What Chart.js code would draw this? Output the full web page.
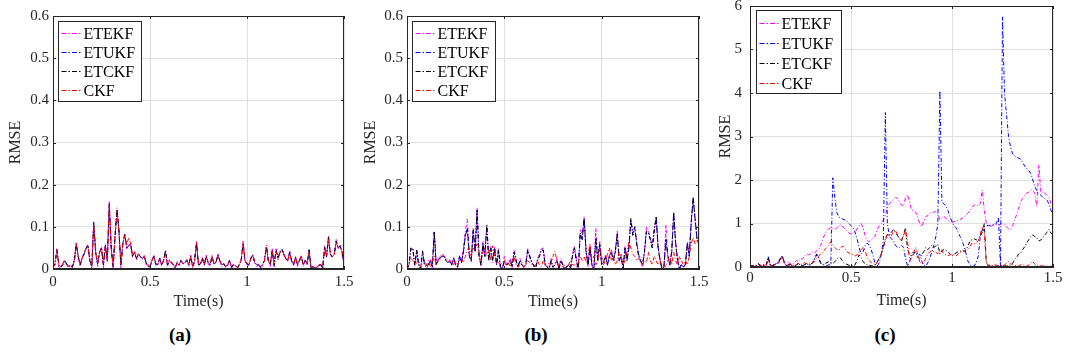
<!DOCTYPE html>
<html>
<head>
<meta charset="utf-8">
<script src="https://cdn.jsdelivr.net/npm/chart.js@4.4.1/dist/chart.umd.min.js"></script>
<style>
  body { margin: 0; background: #fff; width: 1065px; height: 358px; position: relative; overflow: hidden; font-family: 'Liberation Serif', serif; }
  canvas { position: absolute; top: 0; }
  .cap { position: absolute; top: 324px; font-weight: bold; font-size: 19px; color: #000; transform: translateX(-50%); }
</style>
</head>
<body>
<canvas id="chartA" width="355" height="320" style="left:0px"></canvas>
<canvas id="chartB" width="355" height="320" style="left:355px"></canvas>
<canvas id="chartC" width="355" height="320" style="left:710px"></canvas>
<div class="cap" style="left:180px">(a)</div>
<div class="cap" style="left:536px">(b)</div>
<div class="cap" style="left:885px">(c)</div>
<script>
// sample step of every series (s)
const DT = 0.01;
const seriesNames = ['ETEKF', 'ETUKF', 'ETCKF', 'CKF'];
const seriesColors = ['#ff00ff', '#0000ff', '#000000', '#ff0000'];
const xTicks = [0, 0.5, 1, 1.5];
const yTicksAB = [0, 0.1, 0.2, 0.3, 0.4, 0.5, 0.6];
const yTicksC = [0, 1, 2, 3, 4, 5, 6];

// ---- (a) ----
const aEtekf = [0.002,0.015,0.048,0.005,0.002,0.012,0.022,0.01,0.003,0.01,
  0.002,0.022,0.062,0.028,0.006,0.028,0.037,0.05,0.058,0.015,
  0.002,0.112,0.038,0.006,0.042,0.052,0.0,0.06,0.018,0.16,
  0.048,0.0,0.082,0.145,0.092,0.0,0.062,0.085,0.048,0.058,
  0.058,0.028,0.042,0.022,0.038,0.028,0.022,0.032,0.012,0.005,
  0.003,0.022,0.032,0.008,0.008,0.028,0.006,0.022,0.04,0.005,
  0.022,0.018,0.008,0.002,0.018,0.008,0.022,0.01,0.018,0.022,
  0.006,0.033,0.002,0.022,0.066,0.006,0.01,0.028,0.006,0.033,
  0.012,0.006,0.033,0.01,0.018,0.036,0.018,0.005,0.014,0.002,
  0.008,0.022,0.0,0.012,0.006,0.0,0.012,0.022,0.066,0.016,
  0.01,0.008,0.028,0.035,0.012,0.006,0.012,0.002,0.008,0.022,
  0.057,0.018,0.006,0.048,0.005,0.048,0.022,0.042,0.044,0.032,
  0.022,0.018,0.042,0.018,0.006,0.03,0.006,0.022,0.032,0.006,
  0.022,0.01,0.042,0.0,0.004,0.002,0.003,0.01,0.012,0.0,
  0.055,0.028,0.079,0.032,0.028,0.038,0.07,0.048,0.058,0.038,
  0.008];
const aEtukf = [0.005,0.012,0.045,0.01,0.004,0.01,0.02,0.012,0.006,0.008,
  0.005,0.02,0.058,0.03,0.01,0.026,0.035,0.047,0.055,0.02,
  0.006,0.108,0.04,0.012,0.04,0.048,0.01,0.056,0.02,0.153,
  0.05,0.006,0.08,0.14,0.09,0.01,0.06,0.082,0.05,0.055,
  0.06,0.03,0.04,0.025,0.035,0.03,0.025,0.03,0.015,0.006,
  0.004,0.02,0.03,0.012,0.01,0.025,0.01,0.02,0.045,0.01,
  0.02,0.015,0.01,0.002,0.015,0.01,0.02,0.012,0.015,0.02,
  0.01,0.03,0.005,0.02,0.06,0.01,0.012,0.026,0.01,0.03,
  0.015,0.01,0.03,0.012,0.015,0.033,0.02,0.01,0.012,0.005,
  0.01,0.02,0.003,0.01,0.008,0.002,0.01,0.02,0.06,0.02,
  0.012,0.01,0.025,0.033,0.015,0.01,0.01,0.003,0.01,0.02,
  0.052,0.02,0.01,0.045,0.008,0.045,0.025,0.04,0.047,0.038,
  0.025,0.02,0.04,0.02,0.01,0.028,0.01,0.02,0.03,0.01,
  0.02,0.012,0.046,0.003,0.005,0.003,0.004,0.008,0.01,0.002,
  0.05,0.03,0.074,0.035,0.03,0.035,0.065,0.05,0.054,0.04,
  0.01];
const aEtckf = [0.005,0.01,0.046,0.01,0.005,0.01,0.02,0.012,0.006,0.008,
  0.005,0.02,0.06,0.03,0.01,0.026,0.035,0.048,0.056,0.02,
  0.006,0.11,0.04,0.012,0.04,0.05,0.01,0.057,0.02,0.155,
  0.05,0.005,0.08,0.142,0.09,0.01,0.06,0.083,0.05,0.055,
  0.06,0.03,0.04,0.025,0.035,0.03,0.025,0.03,0.015,0.008,
  0.005,0.02,0.03,0.012,0.01,0.025,0.01,0.02,0.043,0.01,
  0.02,0.015,0.01,0.003,0.015,0.01,0.02,0.012,0.015,0.02,
  0.01,0.03,0.005,0.02,0.062,0.01,0.012,0.026,0.01,0.03,
  0.015,0.01,0.03,0.012,0.015,0.033,0.02,0.01,0.012,0.005,
  0.01,0.02,0.005,0.01,0.008,0.002,0.01,0.02,0.062,0.02,
  0.012,0.01,0.025,0.033,0.015,0.01,0.01,0.005,0.01,0.02,
  0.053,0.02,0.01,0.045,0.01,0.045,0.025,0.04,0.046,0.035,
  0.025,0.02,0.04,0.02,0.01,0.028,0.01,0.02,0.03,0.01,
  0.02,0.012,0.045,0.003,0.005,0.003,0.004,0.008,0.01,0.002,
  0.052,0.03,0.075,0.035,0.03,0.035,0.066,0.05,0.055,0.04,
  0.01];
const aCkf = [0.004,0.01,0.044,0.012,0.005,0.012,0.018,0.012,0.007,0.009,
  0.006,0.02,0.059,0.03,0.012,0.025,0.036,0.05,0.054,0.02,
  0.008,0.107,0.042,0.014,0.038,0.05,0.012,0.055,0.022,0.152,
  0.05,0.006,0.078,0.138,0.088,0.012,0.058,0.08,0.055,0.075,
  0.062,0.032,0.04,0.027,0.036,0.03,0.026,0.03,0.016,0.01,
  0.006,0.02,0.03,0.014,0.011,0.024,0.012,0.02,0.038,0.012,
  0.02,0.014,0.012,0.004,0.014,0.012,0.019,0.013,0.014,0.02,
  0.011,0.029,0.006,0.02,0.063,0.012,0.013,0.025,0.012,0.029,
  0.016,0.011,0.029,0.013,0.016,0.032,0.02,0.012,0.012,0.006,
  0.011,0.019,0.006,0.01,0.009,0.003,0.011,0.02,0.06,0.02,
  0.013,0.011,0.024,0.032,0.016,0.011,0.011,0.006,0.011,0.019,
  0.052,0.02,0.012,0.042,0.012,0.043,0.026,0.038,0.042,0.034,
  0.026,0.02,0.038,0.02,0.012,0.027,0.012,0.02,0.029,0.011,
  0.02,0.013,0.04,0.004,0.006,0.004,0.005,0.009,0.011,0.004,
  0.05,0.03,0.072,0.036,0.031,0.034,0.064,0.05,0.053,0.042,
  0.012];

// ---- (b) ----
const bEtekf = [0.0,0.008,0.045,0.05,0.005,0.04,0.015,0.0,0.04,0.012,
  0.0,0.012,0.022,0.0,0.085,0.012,0.025,0.03,0.035,0.032,
  0.025,0.02,0.022,0.008,0.028,0.008,0.0,0.032,0.018,0.05,
  0.09,0.118,0.035,0.015,0.098,0.045,0.145,0.035,0.005,0.065,
  0.035,0.1,0.025,0.055,0.015,0.052,0.008,0.048,0.0,0.0,
  0.03,0.012,0.015,0.025,0.003,0.045,0.025,0.003,0.025,0.012,
  0.003,0.012,0.048,0.032,0.018,0.008,0.0,0.025,0.035,0.048,
  0.05,0.008,0.003,0.0,0.025,0.003,0.012,0.025,0.0,0.025,
  0.012,0.0,0.003,0.012,0.0,0.035,0.055,0.025,0.0,0.095,
  0.08,0.125,0.045,0.005,0.055,0.008,0.0,0.097,0.025,0.065,
  0.012,0.018,0.035,0.008,0.035,0.045,0.025,0.045,0.09,0.018,
  0.035,0.0,0.055,0.025,0.055,0.11,0.09,0.095,0.065,0.035,
  0.025,0.0,0.045,0.1,0.09,0.075,0.055,0.095,0.12,0.055,
  0.025,0.0,0.003,0.105,0.035,0.008,0.045,0.13,0.065,0.025,
  0.0,0.012,0.003,0.012,0.065,0.035,0.115,0.165,0.11,0.075,
  0.06];
const bEtukf = [0.0,0.012,0.05,0.047,0.01,0.044,0.01,0.0,0.042,0.01,
  0.008,0.01,0.02,0.005,0.088,0.01,0.02,0.026,0.03,0.03,
  0.02,0.015,0.02,0.01,0.025,0.01,0.005,0.03,0.015,0.04,
  0.08,0.095,0.03,0.02,0.092,0.04,0.138,0.03,0.01,0.06,
  0.03,0.103,0.02,0.05,0.02,0.05,0.01,0.045,0.005,0.0,
  0.02,0.01,0.012,0.02,0.005,0.04,0.02,0.005,0.02,0.01,
  0.005,0.01,0.045,0.03,0.015,0.01,0.0,0.02,0.03,0.045,
  0.045,0.01,0.005,0.0,0.02,0.005,0.01,0.02,0.0,0.02,
  0.01,0.0,0.005,0.01,0.002,0.03,0.05,0.02,0.0,0.083,
  0.07,0.118,0.04,0.01,0.05,0.01,0.0,0.072,0.02,0.06,
  0.01,0.015,0.03,0.01,0.03,0.04,0.02,0.04,0.083,0.02,
  0.03,0.0,0.05,0.02,0.05,0.118,0.08,0.1,0.06,0.03,
  0.02,0.01,0.04,0.088,0.085,0.07,0.05,0.09,0.123,0.05,
  0.02,0.0,0.005,0.07,0.03,0.01,0.04,0.133,0.06,0.02,
  0.0,0.01,0.005,0.01,0.06,0.03,0.11,0.168,0.12,0.07,
  0.065];
const bEtckf = [0.0,0.01,0.05,0.048,0.01,0.045,0.01,0.0,0.043,0.01,
  0.008,0.01,0.02,0.005,0.09,0.01,0.02,0.026,0.03,0.03,
  0.02,0.015,0.02,0.01,0.025,0.01,0.005,0.03,0.015,0.04,
  0.08,0.097,0.03,0.02,0.093,0.04,0.14,0.03,0.01,0.06,
  0.03,0.105,0.02,0.05,0.02,0.05,0.01,0.045,0.005,0.0,
  0.02,0.01,0.012,0.02,0.005,0.04,0.02,0.005,0.02,0.01,
  0.005,0.01,0.045,0.03,0.015,0.01,0.0,0.02,0.03,0.045,
  0.045,0.01,0.005,0.0,0.02,0.005,0.01,0.02,0.0,0.02,
  0.01,0.0,0.005,0.01,0.002,0.03,0.05,0.02,0.0,0.085,
  0.07,0.12,0.04,0.01,0.05,0.01,0.0,0.073,0.02,0.06,
  0.01,0.015,0.03,0.01,0.03,0.04,0.02,0.04,0.085,0.02,
  0.03,0.0,0.05,0.02,0.05,0.12,0.08,0.1,0.06,0.03,
  0.02,0.01,0.04,0.09,0.085,0.07,0.05,0.09,0.125,0.05,
  0.02,0.0,0.005,0.07,0.03,0.01,0.04,0.135,0.06,0.02,
  0.0,0.01,0.005,0.01,0.06,0.03,0.11,0.17,0.12,0.07,
  0.065];
const bCkf = [0.005,0.01,0.025,0.02,0.01,0.015,0.02,0.005,0.01,0.015,
  0.01,0.02,0.005,0.02,0.03,0.01,0.02,0.03,0.035,0.03,
  0.025,0.02,0.015,0.02,0.01,0.02,0.01,0.02,0.025,0.015,
  0.03,0.045,0.05,0.03,0.05,0.045,0.06,0.04,0.02,0.04,
  0.05,0.03,0.045,0.02,0.055,0.03,0.02,0.015,0.01,0.015,
  0.02,0.01,0.015,0.005,0.02,0.03,0.01,0.005,0.01,0.015,
  0.005,0.01,0.02,0.015,0.01,0.005,0.01,0.02,0.01,0.005,
  0.02,0.01,0.005,0.015,0.01,0.03,0.042,0.02,0.005,0.01,
  0.005,0.01,0.005,0.01,0.02,0.01,0.01,0.005,0.015,0.03,
  0.02,0.03,0.015,0.03,0.06,0.02,0.03,0.01,0.02,0.05,
  0.03,0.01,0.02,0.035,0.05,0.02,0.03,0.01,0.02,0.04,
  0.03,0.01,0.02,0.04,0.065,0.05,0.035,0.03,0.02,0.025,
  0.015,0.01,0.02,0.015,0.04,0.02,0.01,0.03,0.02,0.01,
  0.02,0.005,0.01,0.005,0.02,0.03,0.01,0.04,0.02,0.01,
  0.03,0.02,0.01,0.02,0.01,0.03,0.06,0.075,0.06,0.07,
  0.055];

// ---- (c) ----
const cEtekf = [0.02,0.03,0.02,0.03,0.08,0.04,0.03,0.05,0.04,0.22,
  0.05,0.03,0.05,0.08,0.1,0.2,0.25,0.1,0.05,0.1,
  0.08,0.05,0.1,0.15,0.12,0.2,0.18,0.25,0.3,0.28,
  0.3,0.35,0.32,0.38,0.4,0.5,0.63,0.75,0.83,0.88,
  0.9,0.88,0.86,0.9,0.95,0.97,0.92,0.87,0.82,0.78,
  0.76,0.78,0.8,0.88,0.95,1.0,0.9,0.72,0.62,0.58,
  0.62,0.68,0.72,0.85,0.95,1.0,1.08,1.2,1.35,1.45,
  1.5,1.55,1.6,1.58,1.5,1.42,1.4,1.6,1.66,1.5,
  1.31,1.3,1.26,1.15,1.0,0.93,1.05,1.16,1.18,1.24,
  1.25,1.26,1.28,1.22,1.09,1.12,1.16,1.12,1.08,1.05,
  1.03,1.04,1.05,1.07,1.09,1.12,1.15,1.2,1.24,1.3,
  1.39,1.42,1.43,1.4,1.45,1.77,1.3,1.0,0.96,0.93,
  0.95,0.97,0.97,0.95,0.98,1.0,0.98,0.92,0.88,0.86,
  0.95,1.09,1.2,1.35,1.5,1.58,1.65,1.7,1.72,1.77,
  1.75,1.7,1.39,2.35,1.7,1.72,1.7,1.65,1.6,1.45,
  1.4];
const cEtukf = [0.02,0.03,0.02,0.03,0.08,0.04,0.03,0.05,0.04,0.24,
  0.05,0.03,0.05,0.08,0.1,0.2,0.26,0.1,0.03,0.05,
  0.05,0.03,0.02,0.05,0.08,0.04,0.03,0.05,0.07,0.05,
  0.06,0.1,0.18,0.28,0.22,0.1,0.06,0.04,0.03,0.05,
  0.05,2.05,1.6,1.25,1.15,1.12,1.1,1.08,1.05,1.0,
  0.95,0.9,0.8,0.65,0.45,0.3,0.35,0.5,0.55,0.5,
  0.4,0.25,0.05,0.02,0.1,0.3,0.6,3.55,1.0,0.7,
  0.65,0.6,0.5,0.45,0.45,0.5,0.45,0.2,0.02,0.1,
  0.3,0.35,0.3,0.25,0.3,0.15,0.03,0.02,0.1,0.2,
  0.35,0.5,0.7,1.0,4.05,1.5,1.45,1.4,1.3,1.15,
  1.05,0.95,0.9,0.8,0.7,0.6,0.47,0.3,0.12,0.05,
  0.02,0.02,0.1,0.25,0.7,0.85,0.92,0.95,0.95,0.96,
  0.97,0.98,1.0,1.15,0.02,5.75,4.0,3.5,3.0,2.75,
  2.6,2.55,2.53,2.5,2.48,2.4,2.32,2.27,2.22,2.15,
  2.0,1.85,1.75,1.68,1.65,1.6,1.57,1.54,1.45,1.3,
  1.2];
const cEtckf = [0.02,0.03,0.02,0.03,0.08,0.04,0.03,0.05,0.04,0.22,
  0.05,0.03,0.05,0.08,0.1,0.18,0.25,0.1,0.03,0.05,
  0.06,0.03,0.02,0.05,0.08,0.04,0.03,0.06,0.08,0.05,
  0.04,0.1,0.2,0.3,0.2,0.08,0.05,0.08,0.1,0.12,
  0.1,0.08,0.12,0.18,0.22,0.2,0.12,0.08,0.06,0.04,
  0.03,0.02,0.05,0.15,0.28,0.22,0.12,0.08,0.05,0.04,
  0.03,0.02,0.05,0.12,0.2,0.3,0.45,0.65,0.75,0.72,
  0.8,0.86,0.8,0.72,0.65,0.6,0.75,0.9,0.4,0.3,
  0.25,0.3,0.35,0.22,0.2,0.28,0.35,0.45,0.4,0.45,
  0.5,0.45,0.48,0.52,0.3,0.38,0.4,0.38,0.35,0.3,
  0.25,0.3,0.32,0.35,0.36,0.38,0.36,0.4,0.5,0.6,
  0.63,0.65,0.62,0.66,0.7,0.8,1.0,0.1,0.02,0.03,
  0.02,0.03,0.02,0.03,0.02,0.04,0.03,0.02,0.05,0.04,
  0.08,0.17,0.22,0.3,0.32,0.4,0.47,0.55,0.63,0.7,
  0.74,0.7,0.67,0.6,0.62,0.68,0.74,0.8,0.86,0.78,
  0.74];
const cCkf = [0.01,0.02,0.01,0.02,0.05,0.03,0.02,0.04,0.03,0.15,
  0.04,0.02,0.04,0.06,0.08,0.15,0.22,0.08,0.03,0.04,
  0.05,0.03,0.04,0.06,0.08,0.05,0.07,0.1,0.08,0.06,
  0.08,0.1,0.12,0.2,0.25,0.3,0.32,0.4,0.45,0.5,
  0.58,0.52,0.45,0.4,0.38,0.45,0.48,0.42,0.35,0.32,
  0.3,0.28,0.25,0.28,0.35,0.4,0.45,0.38,0.22,0.15,
  0.1,0.08,0.05,0.1,0.2,0.3,0.45,0.6,0.75,0.72,
  0.72,0.82,0.85,0.75,0.65,0.6,0.7,0.86,0.6,0.15,
  0.2,0.3,0.45,0.3,0.12,0.08,0.1,0.2,0.3,0.35,
  0.38,0.35,0.34,0.3,0.4,0.38,0.3,0.28,0.26,0.28,
  0.3,0.28,0.25,0.3,0.34,0.36,0.36,0.4,0.42,0.48,
  0.55,0.53,0.56,0.6,0.75,0.93,0.78,0.09,0.05,0.04,
  0.03,0.05,0.04,0.02,0.03,0.02,0.05,0.08,0.13,0.08,
  0.05,0.04,0.03,0.02,0.05,0.06,0.03,0.02,0.05,0.08,
  0.13,0.06,0.03,0.05,0.02,0.03,0.02,0.02,0.01,0.02,
  0.01];

Chart.defaults.font.family = "'Liberation Serif', serif";
Chart.defaults.font.size = 15;
Chart.defaults.color = '#262626';

// MATLAB-like box: inward ticks on all four sides, full frame and boxed legend
const matlabAxes = {
  id: 'matlabAxes',
  afterDatasetsDraw(chart, args, o) {
    const {ctx, chartArea: a, scales: {x, y}} = chart;
    ctx.save();
    ctx.strokeStyle = '#262626';
    ctx.lineWidth = 1;
    ctx.beginPath();
    for (const t of x.ticks) {
      const px = Math.round(x.getPixelForValue(t.value)) + 0.5;
      ctx.moveTo(px, a.bottom); ctx.lineTo(px, a.bottom - 3);
      ctx.moveTo(px, a.top); ctx.lineTo(px, a.top + 3);
    }
    for (const t of y.ticks) {
      const py = Math.round(y.getPixelForValue(t.value)) + 0.5;
      ctx.moveTo(a.left, py); ctx.lineTo(a.left + 3, py);
      ctx.moveTo(a.right, py); ctx.lineTo(a.right - 3, py);
    }
    ctx.stroke();
    ctx.strokeRect(Math.round(a.left) + 0.5, Math.round(a.top) + 0.5, Math.round(a.width) - 1, Math.round(a.height) - 1);

    // legend box
    const lx = Math.round(a.left + o.dx) + 0.5;
    const ly = Math.round(a.top + o.dy) + 0.5;
    ctx.fillStyle = '#fff';
    ctx.fillRect(lx, ly, o.w, o.h);
    ctx.strokeStyle = '#262626';
    ctx.strokeRect(lx, ly, o.w, o.h);
    ctx.font = "16px 'Liberation Serif', serif";
    ctx.textBaseline = 'middle';
    seriesNames.forEach((name, i) => {
      const cy = Math.round(ly + o.first + i * o.row) + 0.5;
      ctx.beginPath();
      ctx.strokeStyle = seriesColors[i];
      ctx.lineWidth = 1.2;
      ctx.setLineDash([5, 2, 1.5, 2]);
      ctx.moveTo(lx + 3, cy);
      ctx.lineTo(lx + 24, cy);
      ctx.stroke();
      ctx.setLineDash([]);
      ctx.fillStyle = '#000';
      ctx.fillText(name, lx + 25, cy + 1);
    });
    ctx.restore();
  }
};

function makeChart(id, series, yTicks, yMax, p) {
  new Chart(document.getElementById(id), {
    type: 'line',
    data: {
      datasets: series.map((vals, i) => ({
        label: seriesNames[i],
        data: vals.map((v, k) => ({x: k * DT, y: v})),
        borderColor: seriesColors[i],
        borderWidth: 1,
        borderDash: [4, 2, 1, 2],
        pointRadius: 0,
        tension: 0,
        fill: false,
        order: 4 - i
      }))
    },
    options: {
      responsive: false,
      animation: false,
      events: [],
      layout: {padding: {top: p.top, right: p.right, left: 0, bottom: 0}},
      plugins: {
        legend: {display: false},
        tooltip: {enabled: false},
        matlabAxes: p.legend
      },
      scales: {
        x: {
          type: 'linear',
          min: 0,
          max: 1.5,
          afterBuildTicks: s => { s.ticks = xTicks.map(v => ({value: v})); },
          afterFit: s => { s.height = p.xh; s.paddingLeft = 0; s.paddingRight = 0; },
          ticks: {padding: p.xPad, maxRotation: 0, callback: v => String(v)},
          grid: {color: '#dfdfdf', drawTicks: false},
          border: {color: '#262626'},
          title: {display: true, text: 'Time(s)', font: {size: 16}, padding: {top: 0, bottom: p.xTitle}}
        },
        y: {
          min: 0,
          max: yMax,
          afterBuildTicks: s => { s.ticks = yTicks.map(v => ({value: v})); },
          afterFit: s => { s.width = p.yw; s.paddingTop = 0; s.paddingBottom = 0; },
          ticks: {padding: p.yPad, callback: v => String(v)},
          grid: {color: '#dfdfdf', drawTicks: false},
          border: {color: '#262626'},
          title: {display: true, text: 'RMSE', font: {size: 16}, padding: {top: 6, bottom: 0}}
        }
      }
    },
    plugins: [matlabAxes]
  });
}

makeChart('chartA', [aEtekf, aEtukf, aEtckf, aCkf], yTicksAB, 0.6, {
  top: 16, right: 11, yw: 53, xh: 51, xPad: 4, yPad: 4, xTitle: 9,
  legend: {dx: 5, dy: 5, w: 83, h: 80, first: 11, row: 19}
});
makeChart('chartB', [bEtekf, bEtukf, bEtckf, bCkf], yTicksAB, 0.6, {
  top: 16, right: 11, yw: 52, xh: 51, xPad: 4, yPad: 4, xTitle: 9,
  legend: {dx: 5, dy: 5, w: 83, h: 80, first: 11, row: 19}
});
makeChart('chartC', [cEtekf, cEtukf, cEtckf, cCkf], yTicksC, 6, {
  top: 6, right: 12, yw: 40, xh: 53, xPad: 2, yPad: 8, xTitle: 10,
  legend: {dx: 6, dy: 4, w: 85, h: 83, first: 12, row: 20}
});
</script>
</body>
</html>
